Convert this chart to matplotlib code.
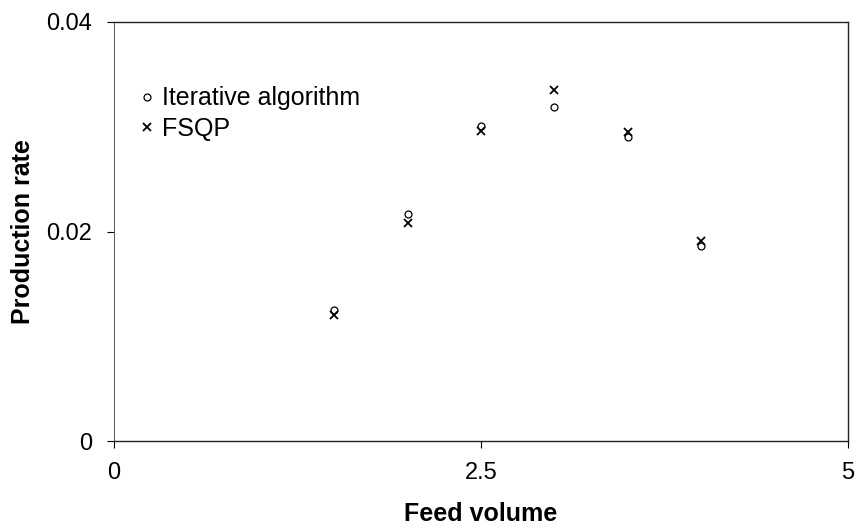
import matplotlib
matplotlib.use('Agg')
import matplotlib.pyplot as plt

plt.rcParams['font.family'] = ['Liberation Sans', 'DejaVu Sans']

# Данные
feed_volume = [1.5, 2.0, 2.5, 3.0, 3.5, 4.0]
iterative = [0.0125, 0.0217, 0.0301, 0.0319, 0.0290, 0.0186]
fsqp = [0.0120, 0.0208, 0.0296, 0.0335, 0.0295, 0.0191]

x_ticks = [0, 2.5, 5]
x_labels = ['0', '2.5', '5']
y_ticks = [0, 0.02, 0.04]
y_labels = ['0', '0.02', '0.04']

fig = plt.figure(figsize=(8.57, 5.30), dpi=100)
ax = fig.add_axes([114 / 857, 1 - 441 / 530, (848 - 114) / 857, (441 - 22) / 530])

ax.plot(feed_volume, iterative, linestyle='none', marker='o', markersize=5,
        markerfacecolor='white', markeredgecolor='black', markeredgewidth=0.9,
        label='Iterative algorithm')
ax.plot(feed_volume, fsqp, linestyle='none', marker='x', markersize=6,
        color='black', markeredgewidth=1.3, label='FSQP')

ax.set_xlim(0, 5)
ax.set_ylim(0, 0.04)
ax.set_xticks(x_ticks)
ax.set_xticklabels(x_labels)
ax.set_yticks(y_ticks)
ax.set_yticklabels(y_labels)

ax.tick_params(axis='both', direction='out', length=5, width=0.8, labelsize=17,
               colors='black')
ax.tick_params(axis='y', pad=11)
ax.tick_params(axis='x', pad=10)

for side in ['top', 'right', 'bottom']:
    ax.spines[side].set_linewidth(1.0)
    ax.spines[side].set_color('#222222')
ax.spines['left'].set_linewidth(0.7)
ax.spines['left'].set_color('#555555')

ax.set_xlabel('Feed volume', fontsize=18, fontweight='bold', labelpad=13)
ax.set_ylabel('Production rate', fontsize=18, fontweight='bold', labelpad=8)

ax.legend(loc='upper left', bbox_to_anchor=(0.023, 0.87), frameon=False,
          fontsize=18, handlelength=0.5, handletextpad=0.35, labelspacing=0.25,
          borderaxespad=0)

fig.savefig('out.png', dpi=100)
